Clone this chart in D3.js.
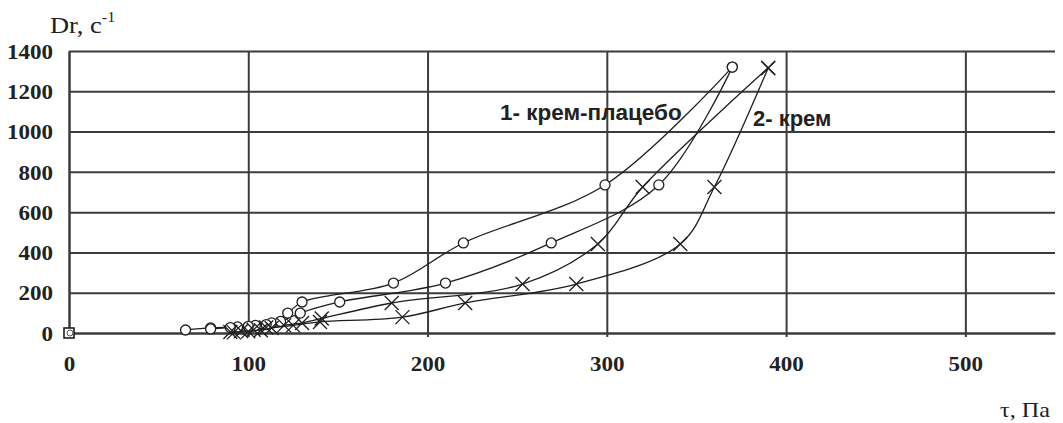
<!DOCTYPE html>
<html>
<head>
<meta charset="utf-8">
<script src="https://cdn.jsdelivr.net/npm/d3@7"></script>
<style>
  body { margin: 0; background: #fff; }
  svg { display: block; }
</style>
</head>
<body>
<div id="chart"></div>
<script>
// tick values
const xTicks = [0, 100, 200, 300, 400, 500];
const yTicks = [0, 200, 400, 600, 800, 1000, 1200, 1400];

// 1 - крем-плацебо (circles), two branches of the loop
const placeboUpTau = [65, 79, 94, 104, 113, 122, 130, 181, 220, 299, 370];
const placeboUpDr  = [15, 25, 30, 38, 50, 99, 154, 248, 447, 735, 1320];
const placeboDownTau = [79, 90, 100, 110, 118, 129, 151, 210, 269, 329, 370];
const placeboDownDr  = [20, 27, 33, 42, 58, 99, 154, 248, 447, 735, 1320];

// 2 - крем (crosses)
const creamUpTau = [90, 96, 103, 110, 120, 130, 141, 180, 253, 295, 320, 390];
const creamUpDr  = [5, 10, 16, 27, 38, 50, 72, 149, 243, 442, 725, 1316];
const creamDownTau = [92, 100, 107, 113, 125, 140, 186, 221, 283, 341, 360, 390];
const creamDownDr  = [3, 8, 14, 25, 38, 55, 79, 149, 243, 442, 725, 1316];

// lone point at the origin
const originTau = [0];
const originDr = [0];

const labels = ["1- крем-плацебо", "2- крем"];

const width = 1063, height = 423;
const mLeft = 69, mRight = 1055, mTop = 51, mBottom = 333;

const svg = d3.select("#chart").append("svg")
  .attr("width", width)
  .attr("height", height);

const x = d3.scaleLinear().domain([0, 550]).range([mLeft, mRight]);
const y = d3.scaleLinear().domain([0, 1400]).range([mBottom, mTop]);

const gridColor = "#3c3c3c";
const serifScale = "scale(1.15,1)";

// y axis + horizontal grid
const yAxis = svg.append("g")
  .attr("transform", `translate(${mLeft},0)`)
  .call(d3.axisLeft(y).tickValues(yTicks).tickFormat(d3.format("d"))
    .tickSize(-(mRight - mLeft)).tickSizeOuter(0));
yAxis.select(".domain").attr("stroke", gridColor).attr("stroke-width", 2);
yAxis.selectAll(".tick line").attr("stroke", gridColor).attr("stroke-width", 2);
yAxis.selectAll(".tick text")
  .attr("x", -14)
  .attr("dy", "0.36em")
  .attr("transform", serifScale)
  .style("font-family", "'Liberation Serif', serif")
  .style("font-weight", "bold")
  .style("font-size", "20px")
  .attr("fill", "#222");

// x axis + vertical grid
const xAxis = svg.append("g")
  .attr("transform", `translate(0,${mBottom})`)
  .call(d3.axisBottom(x).tickValues(xTicks).tickFormat(d3.format("d"))
    .tickSize(-(mBottom - mTop)).tickSizeOuter(0));
xAxis.select(".domain").attr("stroke", gridColor).attr("stroke-width", 2);
xAxis.selectAll(".tick line")
  .attr("y1", 4)
  .attr("stroke", gridColor).attr("stroke-width", 2);
xAxis.selectAll(".tick text")
  .attr("x", 0)
  .attr("y", 38)
  .attr("dy", 0)
  .attr("transform", serifScale)
  .style("font-family", "'Liberation Serif', serif")
  .style("font-weight", "bold")
  .style("font-size", "20px")
  .attr("fill", "#222");

// curves
const line = d3.line()
  .x(d => x(d[0]))
  .y(d => y(d[1]))
  .curve(d3.curveCatmullRom.alpha(0.5));

const zip = (a, b) => a.map((v, i) => [v, b[i]]);
const branches = [
  { pts: zip(placeboUpTau, placeboUpDr), marker: "circle" },
  { pts: zip(placeboDownTau, placeboDownDr), marker: "circle" },
  { pts: zip(creamUpTau, creamUpDr), marker: "cross" },
  { pts: zip(creamDownTau, creamDownDr), marker: "cross" }
];

const plot = svg.append("g");

plot.selectAll("path.curve")
  .data(branches)
  .join("path")
  .attr("class", "curve")
  .attr("d", d => line(d.pts))
  .attr("fill", "none")
  .attr("stroke", "#1e1e1e")
  .attr("stroke-width", 1.3);

// markers
branches.forEach(b => {
  if (b.marker === "circle") {
    plot.selectAll(null)
      .data(b.pts)
      .join("circle")
      .attr("cx", d => x(d[0]))
      .attr("cy", d => y(d[1]))
      .attr("r", 5)
      .attr("fill", "#fff")
      .attr("stroke", "#1e1e1e")
      .attr("stroke-width", 1.3);
  } else {
    plot.selectAll(null)
      .data(b.pts)
      .join("path")
      .attr("transform", d => `translate(${x(d[0])},${y(d[1])})`)
      .attr("d", "M-7,-7L7,7M-7,7L7,-7")
      .attr("fill", "none")
      .attr("stroke", "#1e1e1e")
      .attr("stroke-width", 1.3);
  }
});

// origin point: square with a small circle
const origin = zip(originTau, originDr);
plot.selectAll(null)
  .data(origin)
  .join("rect")
  .attr("x", d => x(d[0]) - 5)
  .attr("y", d => y(d[1]) - 5)
  .attr("width", 10)
  .attr("height", 10)
  .attr("fill", "#fff")
  .attr("stroke", "#1e1e1e")
  .attr("stroke-width", 1.6);
plot.selectAll(null)
  .data(origin)
  .join("circle")
  .attr("cx", d => x(d[0]) + 1)
  .attr("cy", d => y(d[1]))
  .attr("r", 3)
  .attr("fill", "none")
  .attr("stroke", "#555")
  .attr("stroke-width", 1);

// series labels
svg.append("text")
  .attr("x", 500).attr("y", 120)
  .style("font-family", "'Liberation Sans', Arial, sans-serif")
  .style("font-weight", "bold")
  .style("font-size", "22.5px")
  .attr("fill", "#222")
  .text(labels[0]);
svg.append("text")
  .attr("x", 753).attr("y", 126)
  .style("font-family", "'Liberation Sans', Arial, sans-serif")
  .style("font-weight", "bold")
  .style("font-size", "22px")
  .attr("fill", "#222")
  .text(labels[1]);

// axis titles
const yTitle = svg.append("text")
  .attr("transform", `translate(50,33) ${serifScale}`)
  .style("font-family", "'Liberation Serif', serif")
  .style("font-size", "23px")
  .attr("fill", "#222");
yTitle.append("tspan").text("Dr, c");
yTitle.append("tspan").attr("dy", -11).style("font-size", "14px").text("-1");

svg.append("text")
  .attr("transform", `translate(1000,417) ${serifScale}`)
  .style("font-family", "'Liberation Serif', serif")
  .style("font-size", "21px")
  .attr("fill", "#222")
  .text("τ, Па");
</script>
</body>
</html>
